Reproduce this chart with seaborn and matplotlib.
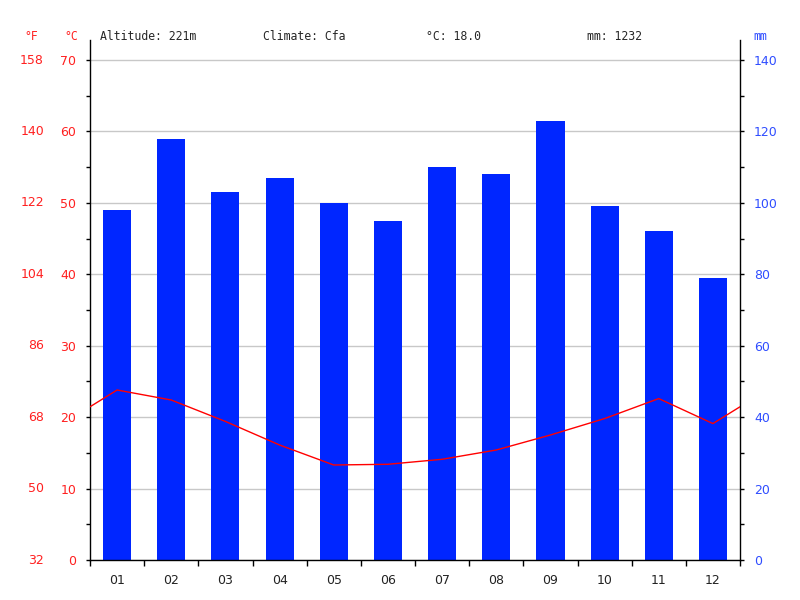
import numpy as np
import pandas as pd
import matplotlib
matplotlib.use('Agg')
import matplotlib.pyplot as plt
import matplotlib.transforms as mtransforms
import seaborn as sns

# Données climatiques
months = ["01", "02", "03", "04", "05", "06", "07", "08", "09", "10", "11", "12"]
precip_mm = [98, 118, 103, 107, 100, 95, 110, 108, 123, 99, 92, 79]
temp_c = [23.8, 22.4, 19.4, 16.1, 13.3, 13.4, 14.1, 15.4, 17.5, 19.8, 22.6, 19.1]
altitude = "221m"
climate = "Cfa"
mean_temp = "18.0"
total_mm = "1232"

RED = "#ff2020"
BLUE = "#2f4dff"
BAR = "#0026ff"
MONO = 'DejaVu Sans Mono'

sns.set_style("white")
plt.rcParams['font.family'] = ['DejaVu Sans']

fig = plt.figure(figsize=(8, 6), dpi=100)
ax = fig.add_axes([90/800, 40/600, 650/800, 520/600])

df = pd.DataFrame({"mois": months, "mm": precip_mm})
sns.barplot(data=df, x="mois", y="mm", color=BAR, saturation=1, width=0.52,
            linewidth=0, ax=ax)

# température (°C) sur l'axe jumeau, avec raccord déc/jan aux bords
ax2 = ax.twinx()
wrap = (temp_c[-1] + temp_c[0]) / 2
tx = [-0.5] + list(range(12)) + [11.5]
ty = [wrap] + temp_c + [wrap]
sns.lineplot(x=tx, y=ty, color="#ff0000", lw=1, ax=ax2, sort=False)

# axe mm (droite)
ax.set_xlim(-0.5, 11.5)
ax.set_ylim(0, 145.6)
ax.set_yticks(np.arange(0, 141, 20))
ax.set_yticks(np.arange(0, 141, 10), minor=True)
ax.yaxis.tick_right()
ax.tick_params(axis='y', which='both', right=True, left=False, labelright=True, labelleft=False,
               direction='out', length=3, width=1, colors='black', labelcolor=BLUE,
               labelsize=9, pad=7)
ax.grid(axis='y', which='major', color='#c8c8c8', lw=1)
ax.set_axisbelow(True)
ax.set_xlabel("")
ax.set_ylabel("")

# axe x : étiquettes au centre, traits aux limites
ax.set_xticks(np.arange(12))
ax.set_xticklabels(months)
ax.set_xticks(np.arange(-0.5, 12, 1), minor=True)
ax.tick_params(axis='x', which='major', length=0, labelsize=9, pad=10, labelcolor='#222222')
ax.tick_params(axis='x', which='minor', bottom=True, direction='out', length=4, width=1, color='black')

for side in ['left', 'right', 'bottom']:
    ax.spines[side].set_visible(True)
    ax.spines[side].set_color('black')
    ax.spines[side].set_linewidth(1)
ax.spines['top'].set_visible(False)

# axe °C (gauche)
ax2.set_ylim(0, 72.8)
ax2.set_xlim(-0.5, 11.5)
ax2.yaxis.tick_left()
ax2.set_yticks(np.arange(0, 71, 10))
ax2.set_yticks(np.arange(0, 71, 5), minor=True)
ax2.tick_params(axis='y', which='both', left=True, right=False, labelleft=True, labelright=False,
                direction='out', length=3, width=1, colors='black', labelcolor=RED,
                labelsize=9, pad=7)
ax2.set_ylabel("")
for side in ax2.spines:
    ax2.spines[side].set_visible(False)

# colonne °F
trans = mtransforms.blended_transform_factory(fig.transFigure, ax2.transData)
for c in range(0, 71, 10):
    f = int(round(c * 1.8 + 32))
    fig.text(44/800, c, str(f), transform=trans, color=RED, fontsize=9, ha='right', va='center')

# en-têtes
hy = 1 - 36/600
fig.text(31/800, hy, "°F", color=RED, fontsize=8.3, ha='center', va='center', family=MONO)
fig.text(71/800, hy, "°C", color=RED, fontsize=8.3, ha='center', va='center', family=MONO)
fig.text(760/800, hy, "mm", color=BLUE, fontsize=8.3, ha='center', va='center', family=MONO)
fig.text(100/800, hy, f"Altitude: {altitude}", fontsize=8.3, va='center', family=MONO)
fig.text(263/800, hy, f"Climate: {climate}", fontsize=8.3, va='center', family=MONO)
fig.text(426/800, hy, f"°C: {mean_temp}", fontsize=8.3, va='center', family=MONO)
fig.text(587/800, hy, f"mm: {total_mm}", fontsize=8.3, va='center', family=MONO)

plt.savefig("out.png", dpi=100)
plt.close()
